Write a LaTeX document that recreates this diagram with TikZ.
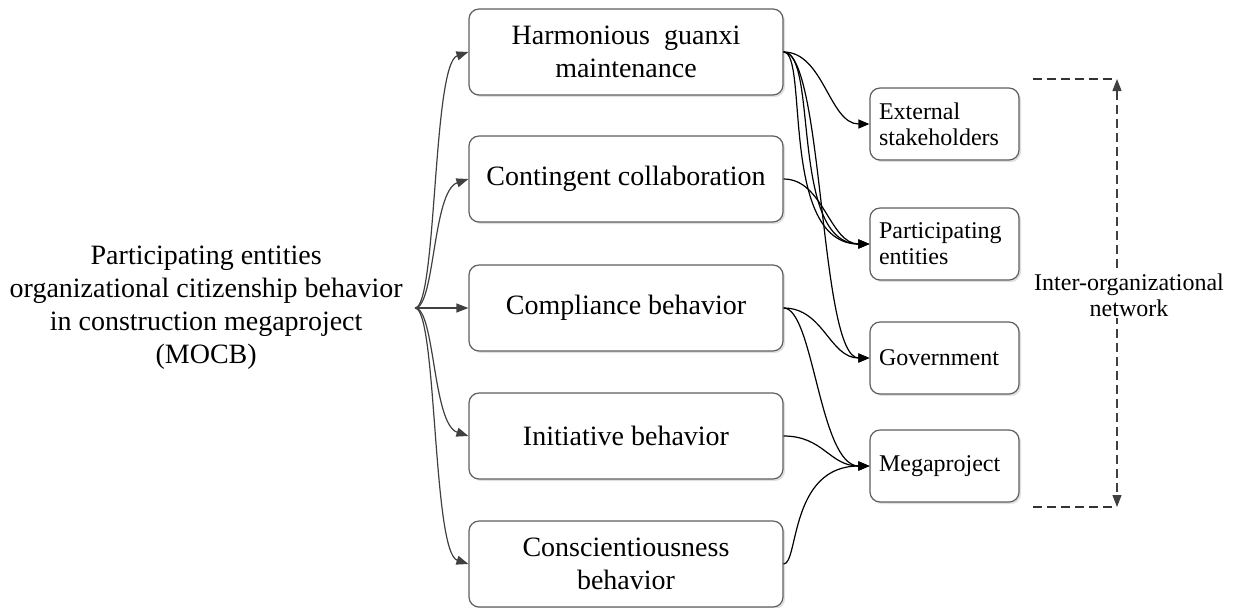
\documentclass[tikz,border=0pt]{standalone}
\usepackage{fontspec}
\setmainfont{Liberation Serif}
\usetikzlibrary{arrows.meta,shadows}

\definecolor{boxgray}{HTML}{5F5F5F}
\definecolor{arrowgray}{HTML}{404040}

\begin{document}
\begin{tikzpicture}[x=0.5pt,y=-0.5pt,
    midbox/.style={draw=boxgray,line width=0.6pt,rounded corners=5pt,fill=white,
      minimum width=157pt,minimum height=43pt,align=center,
      font=\fontsize{14}{16.5}\selectfont,
      drop shadow={shadow xshift=1pt,shadow yshift=-1pt,fill=black!20,opacity=0.6}},
    sidebox/.style={draw=boxgray,line width=0.6pt,rounded corners=5pt,fill=white,
      minimum width=74.5pt,minimum height=36pt,text width=65.5pt,inner xsep=4.5pt,
      align=left,font=\fontsize{12}{13}\selectfont,
      drop shadow={shadow xshift=1pt,shadow yshift=-1pt,fill=black!20,opacity=0.6}},
    leftarrow/.style={draw=arrowgray,line width=0.6pt,-{Triangle[length=6pt,width=4.5pt]}},
    rightarrow/.style={draw=black,line width=0.6pt,-{Triangle[length=5.5pt,width=4.5pt]}},
    netline/.style={draw=black!80,line width=0.6pt,dash pattern=on 4.5pt off 2.5pt}]
\useasboundingbox (0,0) rectangle (1237,607);

% left text
\node[anchor=east,inner xsep=6pt,align=center,font=\fontsize{14}{16.5}\selectfont] (mocb) at (415,308)
  {Participating entities\\organizational citizenship behavior\\in construction megaproject\\(MOCB)};

% dimension boxes
\node[midbox] (harm) at (626,52) {Harmonious\ \ guanxi\\maintenance};
\node[midbox] (cont) at (626,179) {Contingent collaboration};
\node[midbox] (comp) at (626,308) {Compliance behavior};
\node[midbox] (init) at (626,436) {Initiative behavior};
\node[midbox] (cons) at (626,564) {Conscientiousness\\behavior};

% network boxes
\node[sidebox] (ext) at (944.5,124) {External\\stakeholders};
\node[sidebox] (part) at (944.5,244) {Participating\\entities};
\node[sidebox] (gov) at (944.5,358) {Government};
\node[sidebox] (mega) at (944.5,466) {Megaproject};

% left fan
\draw[leftarrow] (mocb.east) .. controls +(22,0) and +(-36,12) .. (harm.west);
\draw[leftarrow] (mocb.east) .. controls +(20,0) and +(-36,12) .. (cont.west);
\draw[leftarrow] (mocb.east) -- (comp.west);
\draw[leftarrow] (mocb.east) .. controls +(20,0) and +(-36,-12) .. (init.west);
\draw[leftarrow] (mocb.east) .. controls +(22,0) and +(-36,-12) .. (cons.west);

% right links
\draw[rightarrow] (harm.east) .. controls +(40,0) and +(-40,0) .. (ext.west);
\draw[rightarrow] (harm.east) .. controls +(25,0) and +(-90,0) .. (part.west);
\draw[rightarrow] (harm.east) .. controls +(35,0) and +(-80,0) .. (part.west);
\draw[rightarrow] (harm.east) .. controls +(40,0) and +(-50,0) .. (gov.west);
\draw[rightarrow] (cont.east) .. controls +(40,0) and +(-40,0) .. (part.west);
\draw[rightarrow] (comp.east) .. controls +(40,0) and +(-40,0) .. (gov.west);
\draw[rightarrow] (comp.east) .. controls +(30,0) and +(-50,0) .. (mega.west);
\draw[rightarrow] (init.east) .. controls +(40,0) and +(-40,0) .. (mega.west);
\draw[rightarrow] (cons.east) .. controls +(15,0) and +(-80,0) .. (mega.west);

% network bracket
\coordinate (topend) at (1033,79);
\coordinate (nettop) at (1117,79);
\coordinate (netbot) at (1117,507);
\coordinate (botend) at (1033,507);
\draw[netline] (topend) -- (nettop);
\draw[netline] (botend) -- (netbot);
\draw[netline,draw=arrowgray,{Triangle[length=6pt,width=4.5pt]}-{Triangle[length=6pt,width=4.5pt]}] (nettop) -- (netbot);
\node[fill=white,inner sep=1pt,align=center,font=\fontsize{12}{13}\selectfont] (net) at (1129,295)
  {Inter-organizational\\network};
\end{tikzpicture}
\end{document}
